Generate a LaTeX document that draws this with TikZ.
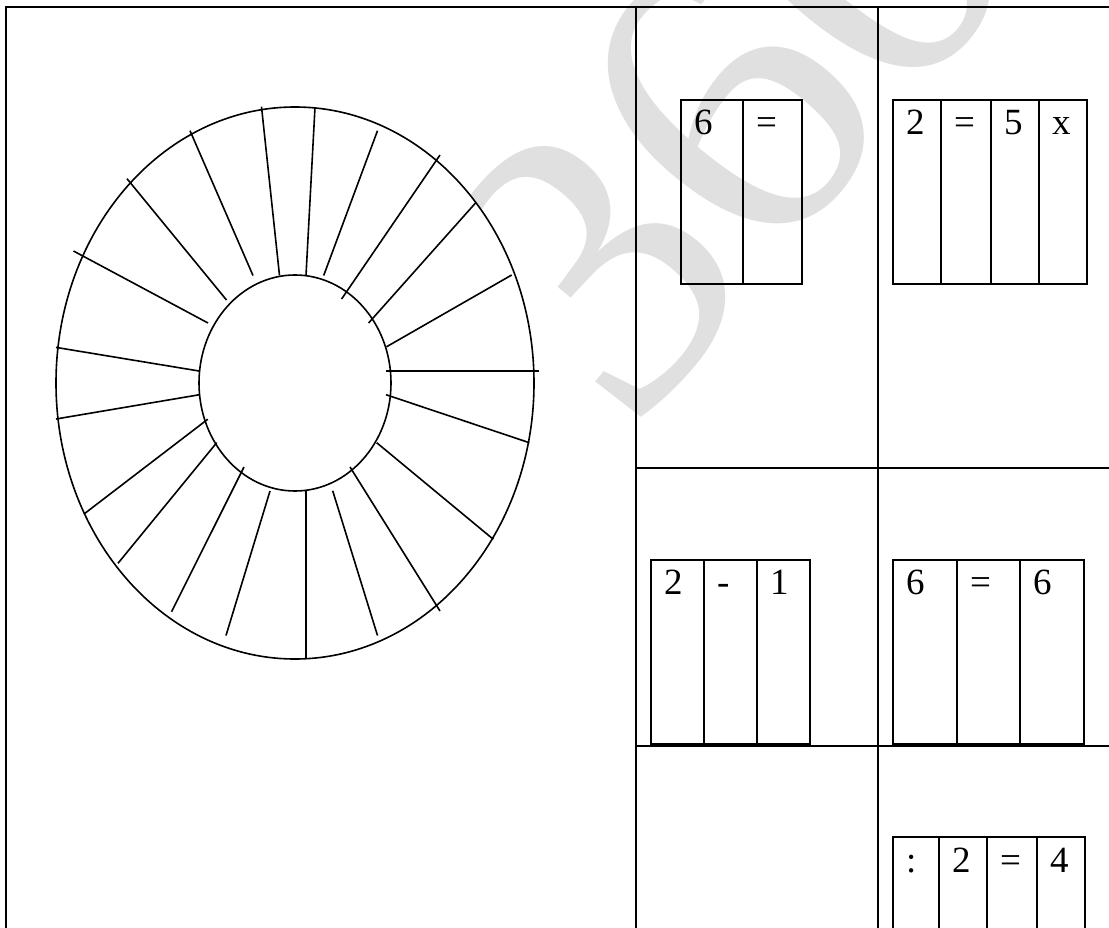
\documentclass[tikz,border=0pt]{standalone}
\usepackage{fontspec}
\setmainfont{Liberation Serif}
\begin{document}
\begin{tikzpicture}[x=1pt,y=-1pt,
  frame/.style={line width=2pt},
  wheel/.style={line width=1.6pt},
  cell/.style={line width=2pt},
  digit/.style={anchor=base west, inner sep=0pt, font=\fontsize{37}{40}\selectfont},
  wmark/.style={text=black!12, inner sep=0pt, font=\fontsize{420}{420}\selectfont}]
\useasboundingbox (0,0) rectangle (1109,928);
\clip (0,0) rectangle (1109,928);
% watermark
\node[wmark, rotate=50] (wm) at (728,108) {360};
% frame
\draw[frame] (6,7.5) -- (1115,7.5);
\draw[frame] (6,6.5) -- (6,935);
\draw[frame] (636,7.5) -- (636,935);
\draw[frame] (878,7.5) -- (878,935);
\draw[frame] (636,468) -- (1115,468);
\draw[frame] (636,745.5) -- (1115,745.5);
% wheel
\coordinate (c) at (295,383);
\filldraw[wheel, fill=white] (c) ellipse [x radius=239, y radius=276];
\draw[wheel] (c) ellipse [x radius=96, y radius=108];
\foreach \a/\b/\p/\q in {
  73.5/251/208/323, 127/178.7/226.5/300, 190/130.7/253/275.5,
  261.5/106.7/279.5/275.5, 315/107.3/306/275.5, 377.5/130.7/323.7/275.5,
  440/155/341.6/299, 475.5/203/368.6/323, 511.7/275/386.5/346.8,
  386/371/538.7/371, 386/394.7/529.3/442.7, 376.7/442.7/493.3/539.3,
  350/467/440/611, 332.7/490.8/377.5/635.5, 306/491/306/659,
  270/491/226/635.5, 244/467/171.6/611.7, 216.7/442.7/118/563.3,
  207.8/419.2/84/514, 199/394.8/56/419, 199/371/56/347.4}
  \draw[wheel] (\a,\b) -- (\p,\q);
% box A
\draw[cell, fill=white, fill opacity=0] (681,100) rectangle (802,284);
\draw[cell] (743,100) -- (743,284);
\node[digit] (a1) at (694,135) {6};
\node[digit] (a2) at (756,135) {=};
% box B
\draw[cell] (893,100) rectangle (1087,284);
\foreach \x in {941,991,1039} \draw[cell] (\x,100) -- (\x,284);
\node[digit] (b1) at (906,135) {2};
\node[digit] (b2) at (954,135) {=};
\node[digit] (b3) at (1004,135) {5};
\node[digit] (b4) at (1052,135) {x};
% box C
\draw[cell] (651,560) rectangle (810,743.5);
\foreach \x in {704,757} \draw[cell] (\x,560) -- (\x,743.5);
\node[digit] (c1) at (664,594) {2};
\node[digit] (c2) at (717,594) {-};
\node[digit] (c3) at (770,594) {1};
% box D
\draw[cell] (893,560) rectangle (1084,743.5);
\foreach \x in {957,1020} \draw[cell] (\x,560) -- (\x,743.5);
\node[digit] (d1) at (906,594) {6};
\node[digit] (d2) at (970,594) {=};
\node[digit] (d3) at (1033,594) {6};
% box E
\draw[cell] (893,940) -- (893,837) -- (1085,837) -- (1085,940);
\foreach \x in {939,987,1037} \draw[cell] (\x,837) -- (\x,940);
\node[digit] (e1) at (906,872) {:};
\node[digit] (e2) at (952,872) {2};
\node[digit] (e3) at (1000,872) {=};
\node[digit] (e4) at (1050,872) {4};
\end{tikzpicture}
\end{document}
